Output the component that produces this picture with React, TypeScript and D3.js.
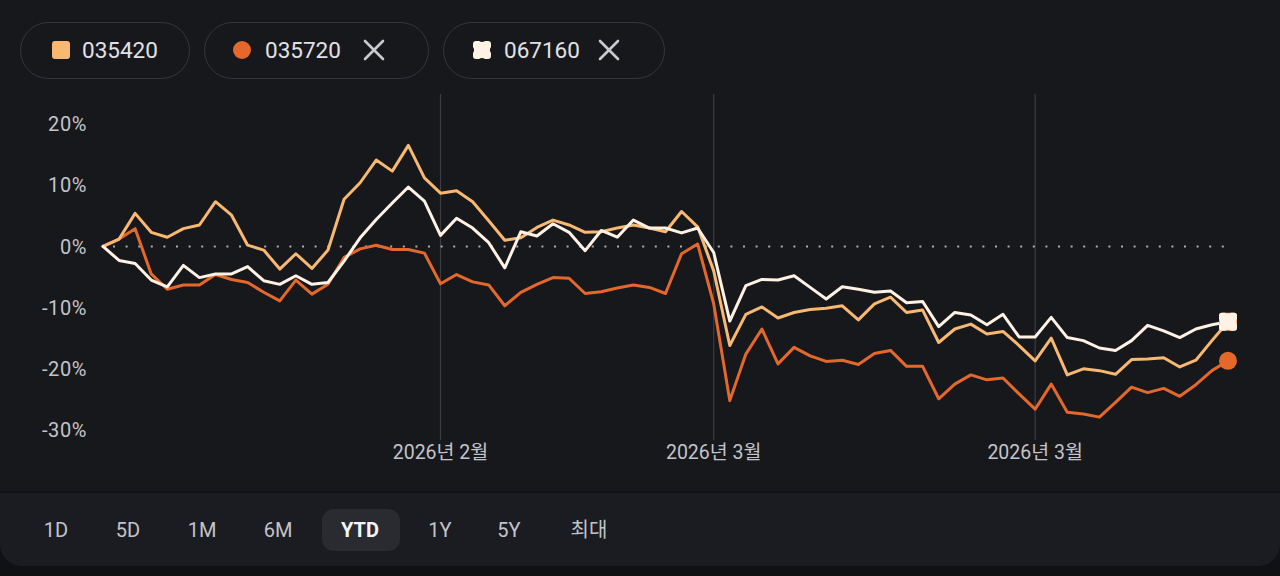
import * as d3 from "d3";

// percent change since start of year, one value per trading day
const s035420 = [
  0, 1.2, 5.4, 2.3, 1.5, 2.9, 3.5, 7.3, 5.1, 0.2, -0.6, -3.7, -1.2, -3.6, -0.6, 7.7, 10.4, 14.1, 12.3, 16.5,
  11.2, 8.7, 9.1, 7.3, 4.2, 1.0, 1.4, 3.1, 4.3, 3.5, 2.3, 2.4, 3.0, 3.5, 3.0, 2.4, 5.7, 3.2, -4.0, -16.2,
  -11.1, -9.9, -11.7, -10.8, -10.3, -10.1, -9.7, -12.0, -9.4, -8.3, -10.8, -10.4, -15.7, -13.5, -12.7, -14.3,
  -13.9, -16.2, -18.7, -15.0, -21.0, -20.0, -20.3, -20.9, -18.5, -18.4, -18.2, -19.7, -18.6, -15.4, -12.3,
];
const s035720 = [
  0, 1.2, 2.9, -4.5, -7.0, -6.3, -6.3, -4.6, -5.4, -5.9, -7.5, -8.9, -5.5, -7.8, -6.2, -1.8, -0.4, 0.2, -0.5, -0.5,
  -1.1, -6.1, -4.6, -5.8, -6.3, -9.7, -7.5, -6.2, -5.1, -5.2, -7.7, -7.4, -6.8, -6.3, -6.7, -7.7, -1.2, 0.4, -9.4,
  -25.2, -17.6, -13.5, -19.2, -16.5, -17.9, -18.8, -18.6, -19.3, -17.5, -17.0, -19.6, -19.6, -24.9, -22.5, -21.0,
  -21.8, -21.5, -24.1, -26.6, -22.5, -27.1, -27.4, -27.9, -25.5, -23.0, -23.9, -23.2, -24.5, -22.6, -20.3, -18.7,
];
const s067160 = [
  0, -2.3, -2.8, -5.5, -6.6, -3.1, -5.1, -4.5, -4.5, -3.3, -5.6, -6.2, -4.8, -6.2, -5.9, -2.4, 1.4, 4.4, 7.1, 9.7,
  7.4, 1.8, 4.6, 3.0, 0.6, -3.5, 2.4, 1.7, 3.7, 2.3, -0.7, 2.6, 1.5, 4.3, 3.0, 3.0, 2.2, 3.0, -1.0, -12.2,
  -6.4, -5.4, -5.5, -4.8, -6.7, -8.6, -6.6, -7.0, -7.5, -7.3, -9.2, -9.0, -13.1, -10.8, -11.2, -12.8,
  -11.1, -14.8, -14.8, -11.6, -14.9, -15.4, -16.6, -17.0, -15.4, -12.9, -13.8, -14.9, -13.5, -12.8, -12.3,
];

const tickValues = [20, 10, 0, -10, -20, -30];
const monthIndex = [21, 38, 58];
const monthLabels = ["2026년 2월", "2026년 3월", "2026년 3월"];
const rangeLabels = ["1D", "5D", "1M", "6M", "YTD", "1Y", "5Y", "최대"];
const tickers = ["035420", "035720", "067160"];

const FONT = "Roboto, 'Noto Sans CJK KR', sans-serif";
const BG = "#17181c";
const C_LIGHT = "#f9b871";
const C_ORANGE = "#e4682b";
const C_CREAM = "#fff1e4";

// square with small dents in the middle of each side
function blob(cx: number, cy: number, h: number) {
  const r = 3;
  const d = 2.2;
  const p = d3.path();
  p.moveTo(cx - h + r, cy - h);
  p.lineTo(cx - 3, cy - h);
  p.quadraticCurveTo(cx, cy - h + d, cx + 3, cy - h);
  p.lineTo(cx + h - r, cy - h);
  p.quadraticCurveTo(cx + h, cy - h, cx + h, cy - h + r);
  p.lineTo(cx + h, cy - 3);
  p.quadraticCurveTo(cx + h - d, cy, cx + h, cy + 3);
  p.lineTo(cx + h, cy + h - r);
  p.quadraticCurveTo(cx + h, cy + h, cx + h - r, cy + h);
  p.lineTo(cx + 3, cy + h);
  p.quadraticCurveTo(cx, cy + h - d, cx - 3, cy + h);
  p.lineTo(cx - h + r, cy + h);
  p.quadraticCurveTo(cx - h, cy + h, cx - h, cy + h - r);
  p.lineTo(cx - h, cy + 3);
  p.quadraticCurveTo(cx - h + d, cy, cx - h, cy - 3);
  p.lineTo(cx - h, cy - h + r);
  p.quadraticCurveTo(cx - h, cy - h, cx - h + r, cy - h);
  p.closePath();
  return p.toString();
}

function Cross({ x, y }: { x: number; y: number }) {
  const s = 9;
  return (
    <g stroke="#c9cad0" strokeWidth={2.6} strokeLinecap="round">
      <line x1={x - s} y1={y - s} x2={x + s} y2={y + s} />
      <line x1={x - s} y1={y + s} x2={x + s} y2={y - s} />
    </g>
  );
}

export default function App() {
  const x = d3.scaleLinear().domain([0, s035420.length - 1]).range([103, 1228]);
  const y = d3.scaleLinear().domain([-30, 20]).range([430, 124]);
  const line = d3
    .line<number>()
    .x((_, i) => x(i))
    .y((d) => y(d));

  const last = s035420.length - 1;
  const chips = [
    { x: 20, w: 169, color: C_LIGHT, close: false },
    { x: 204, w: 224, color: C_ORANGE, close: true },
    { x: 443, w: 221, color: C_CREAM, close: true },
  ];
  const rangeX = [56, 128, 202, 278, 360, 440, 509, 589];

  return (
    <svg
      width={1280}
      height={576}
      style={{ position: "absolute", left: 0, top: 0, display: "block" }}
      fontFamily={FONT}
    >
      <rect width={1280} height={576} fill="#101114" />
      <rect width={1280} height={566} rx={22} fill={BG} />
      <rect y={0} width={1280} height={40} fill={BG} />
      <rect y={493} width={1280} height={73} rx={22} fill="#1b1c21" />
      <rect y={493} width={1280} height={30} fill="#1b1c21" />
      <line x1={0} x2={1280} y1={492} y2={492} stroke="#111215" strokeWidth={2} />

      {/* legend chips */}
      {chips.map((c, i) => (
        <g key={tickers[i]}>
          <rect x={c.x + 0.5} y={22.5} width={c.w} height={56} rx={28} fill={BG} stroke="#35363c" strokeWidth={1} />
          {i === 0 && <rect x={c.x + 32} y={41} width={18} height={18} rx={3} fill={c.color} />}
          {i === 1 && <circle cx={c.x + 38} cy={50} r={9} fill={c.color} />}
          {i === 2 && <path d={blob(c.x + 39, 50, 9)} fill={c.color} />}
          <text x={c.x + (i === 0 ? 62 : 61)} y={50} dy="0.36em" fontSize={22.5} fill="#e2e2e6">
            {tickers[i]}
          </text>
          {c.close && <Cross x={c.x + (i === 1 ? 170 : 166)} y={50} />}
        </g>
      ))}

      {/* month grid lines */}
      {monthIndex.map((m, i) => (
        <g key={i}>
          <line x1={x(m)} x2={x(m)} y1={94} y2={440} stroke="#3b3c42" strokeWidth={1.2} />
          <text x={x(m)} y={452} dy="0.36em" textAnchor="middle" fontSize={19.5} fill="#c3c4c9">
            {monthLabels[i]}
          </text>
        </g>
      ))}

      {/* y axis labels */}
      {tickValues.map((t) => (
        <text key={t} x={87} y={y(t)} dy="0.36em" textAnchor="end" fontSize={20} letterSpacing={0.6} fill="#c3c4c9">
          {t + "%"}
        </text>
      ))}

      {/* zero reference */}
      <line
        x1={x(0) + 10}
        x2={x(last)}
        y1={y(0)}
        y2={y(0)}
        stroke="#a9abb2"
        strokeWidth={2}
        strokeDasharray="2 10.6"
      />

      <g fill="none" strokeWidth={3} strokeLinejoin="round" strokeLinecap="round">
        <path d={line(s035720) ?? ""} stroke={C_ORANGE} />
        <path d={line(s035420) ?? ""} stroke={C_LIGHT} />
        <path d={line(s067160) ?? ""} stroke={C_CREAM} />
      </g>

      <circle cx={x(last)} cy={y(s035720[last])} r={9} fill={C_ORANGE} />
      <rect x={x(last) - 9} y={y(s035420[last]) - 9} width={18} height={18} rx={3} fill={C_LIGHT} />
      <path d={blob(x(last), y(s067160[last]), 9)} fill={C_CREAM} />

      {/* range selector */}
      <rect x={322} y={509} width={78} height={42} rx={12} fill="#2a2b31" />
      {rangeLabels.map((r, i) => (
        <text
          key={r}
          x={rangeX[i]}
          y={530}
          dy="0.36em"
          textAnchor="middle"
          fontSize={20}
          fontWeight={r === "YTD" ? 700 : 400}
          fill={r === "YTD" ? "#f4f4f6" : "#c3c4c9"}
        >
          {r}
        </text>
      ))}
    </svg>
  );
}
